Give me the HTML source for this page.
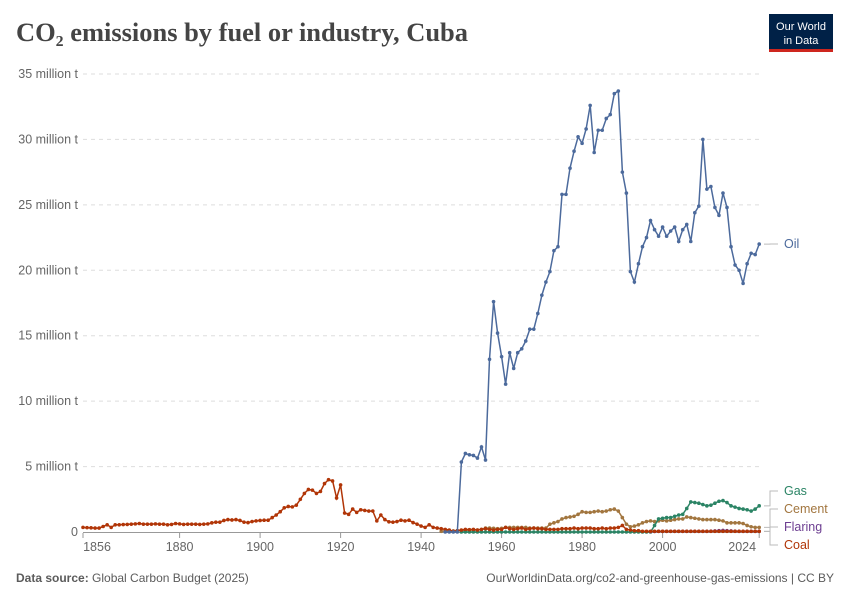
<!DOCTYPE html>
<html><head><meta charset="utf-8">
<style>
body{margin:0;background:#fff;font-family:"Liberation Sans",sans-serif;}
</style></head>
<body>
<svg width="850" height="600" viewBox="0 0 850 600" style="font-family:'Liberation Sans',sans-serif">
<text x="16" y="41" style="font-family:'Liberation Serif',serif;font-weight:bold;font-size:26px" fill="#444" textLength="452" lengthAdjust="spacingAndGlyphs">CO₂ emissions by fuel or industry, Cuba</text>
<g>
<rect x="769" y="14" width="64" height="38" fill="#002147"/>
<rect x="769" y="49" width="64" height="3" fill="#ce261e"/>
<text x="801" y="30" font-size="11" fill="#fff" text-anchor="middle">Our World</text>
<text x="801" y="44" font-size="11" fill="#fff" text-anchor="middle">in Data</text>
</g>
<g id="grid"></g>
<g id="series"></g>
<g id="labels"></g>
<text x="16" y="582" font-size="12" fill="#5b5b5b"><tspan font-weight="bold">Data source:</tspan> Global Carbon Budget (2025)</text>
<text x="834" y="582" font-size="12" fill="#5b5b5b" text-anchor="end">OurWorldinData.org/co2-and-greenhouse-gas-emissions | CC BY</text>
</svg>
<script>
const yTicks=[0,5,10,15,20,25,30,35];
const xTicks=[1856,1880,1900,1920,1940,1960,1980,2000,2024];
const oilStart=1946;
const oil=[0,0,0,0,5.35,6.0,5.9,5.85,5.65,6.5,5.5,13.2,17.6,15.2,13.4,11.3,13.7,12.5,13.7,14.0,14.6,15.5,15.5,16.7,18.1,19.1,19.9,21.5,21.8,25.8,25.8,27.8,29.1,30.2,29.7,30.8,32.6,29.0,30.7,30.7,31.6,31.9,33.5,33.7,27.5,25.9,19.9,19.1,20.5,21.8,22.5,23.8,23.1,22.6,23.3,22.6,23.0,23.3,22.2,23.1,23.5,22.2,24.4,24.9,30.0,26.2,26.4,24.8,24.2,25.9,24.8,21.8,20.4,20.0,19.0,20.5,21.3,21.2,22.0];
const coalStart=1856;
const coal=[0.35,0.33,0.32,0.3,0.3,0.42,0.55,0.35,0.55,0.55,
0.57,0.58,0.6,0.62,0.65,0.6,0.6,0.6,0.62,0.6,
0.6,0.55,0.58,0.65,0.62,0.58,0.6,0.6,0.6,0.58,
0.6,0.62,0.7,0.75,0.75,0.88,0.95,0.92,0.95,0.88,
0.75,0.72,0.8,0.85,0.88,0.9,0.9,1.1,1.3,1.55,
1.85,1.95,1.92,2.05,2.5,2.95,3.25,3.2,2.95,3.1,
3.7,4.0,3.9,2.6,3.6,1.45,1.35,1.75,1.5,1.7,
1.65,1.6,1.6,0.85,1.3,0.95,0.78,0.75,0.8,0.9,
0.85,0.9,0.72,0.6,0.45,0.35,0.55,0.35,0.3,0.25,
0.2,0.15,0.05,0.1,0.15,0.2,0.18,0.2,0.15,0.2,
0.25,0.2,0.15,0.2,0.2,0.35,0.25,0.2,0.25,0.3,
0.2,0.25,0.3,0.25,0.25,0.2,0.2,0.2,0.2,0.25,
0.25,0.25,0.3,0.25,0.3,0.3,0.3,0.25,0.25,0.3,
0.25,0.3,0.3,0.35,0.5,0.2,0.15,0.1,0.1,0.05,
0.05,0.05,0.05,0.05,0.05,0.05,0.05,0.05,0.05,0.05,
0.05,0.05,0.05,0.05,0.05,0.05,0.05,0.05,0.05,0.05,
0.05,0.05,0.05,0.05,0.05,0.05,0.05,0.05,0.05];
const cementStart=1945;
const cement=[0.05,0.08,0.08,0.08,0.1,0.12,0.12,0.15,0.15,0.15,0.2,0.3,0.3,0.28,0.25,0.28,0.35,0.35,0.35,0.35,0.35,0.35,0.3,0.3,0.3,0.3,0.3,0.6,0.7,0.8,1.0,1.1,1.15,1.2,1.35,1.55,1.5,1.5,1.55,1.6,1.55,1.6,1.7,1.75,1.6,1.1,0.6,0.4,0.45,0.55,0.7,0.8,0.85,0.8,0.85,0.9,0.85,0.9,0.95,1.0,1.0,1.15,1.1,1.05,1.0,0.95,0.95,0.95,0.95,0.9,0.85,0.7,0.7,0.7,0.7,0.65,0.5,0.4,0.35,0.35];
const gasStart=1950;
const gas=[0,0,0,0,0,0,0,0,0,0,0,0,0,0,0,0,0,0,0,0,0,0,0,0,0,0,0,0,0,0,0,0,0,0,0,0,0,0,0,0,0,0,0,0,0,0,0,0,0.5,1.0,1.05,1.1,1.1,1.2,1.3,1.35,1.8,2.3,2.25,2.2,2.1,2.0,2.05,2.2,2.35,2.4,2.25,2.0,1.9,1.8,1.75,1.7,1.6,1.75,2.0];
const flaringStart=1997;
const flaring=[0.03,0.04,0.05,0.05,0.05,0.05,0.05,0.05,0.05,0.05,0.05,0.05,0.05,0.05,0.05,0.06,0.08,0.1,0.12,0.1,0.08,0.06,0.05,0.05,0.05,0.05,0.05,0.05];

const NS="http://www.w3.org/2000/svg";
const X=y=>83+(y-1856)*4.025;
const Y=v=>532-v*13.086;
function mk(tag,attrs,parent){const e=document.createElementNS(NS,tag);for(const k in attrs)e.setAttribute(k,attrs[k]);parent.appendChild(e);return e;}
const grid=document.getElementById('grid');
yTicks.forEach(t=>{
  if(t>0){const l=mk('line',{x1:X(1856),x2:760,y1:Y(t),y2:Y(t),stroke:'#ddd','stroke-dasharray':'4,4'},grid);
  
  }
  const tx=mk('text',{x:78,y:Y(t)+4,'font-size':12.5,fill:'#666','text-anchor':'end'},grid);
  tx.textContent=t===0?'0':t+' million t';
  
  
});
const ax=mk('line',{x1:83,x2:760,y1:532.5,y2:532.5,stroke:'#999'},grid);


xTicks.forEach(t=>{
  mk('line',{x1:X(t),x2:X(t),y1:533,y2:538,stroke:'#999'},grid);
  const tx=mk('text',{x:t===2024?X(t)-17:(t===1856?X(t)+14:X(t)),y:551,'font-size':12.5,fill:'#666','text-anchor':'middle'},grid);
  tx.textContent=t;
  
  
});
const sg=document.getElementById('series');
function draw(name,start,vals,color){
  const g=mk('g',{},sg);
  
  
  const pts=vals.map((v,i)=>X(start+i).toFixed(1)+','+Y(v).toFixed(1)).join(' ');
  mk('polyline',{points:pts,fill:'none',stroke:color,'stroke-width':1.5},g);
  vals.forEach((v,i)=>mk('circle',{cx:X(start+i),cy:Y(v),r:1.8,fill:color},g));
}
draw('cement',cementStart,cement,'#a2763f');
draw('gas',gasStart,gas,'#2b8465');
draw('flaring',flaringStart,flaring,'#6d3e91');
draw('coal',coalStart,coal,'#b13507');
draw('oil',oilStart,oil,'#4c6a9c');
const lg=document.getElementById('labels');
const legend=[['Oil',248,'#4c6a9c',oil[oil.length-1]],['Gas',495,'#2b8465',gas[gas.length-1]],['Cement',513,'#a2763f',cement[cement.length-1]],['Flaring',531,'#6d3e91',flaring[flaring.length-1]],['Coal',549,'#b13507',coal[coal.length-1]]];
legend.forEach(([n,y,c,v])=>{
  const ly=y-4;
  mk('path',{d:`M764 ${Y(v)} H770 V${ly} H778`,fill:'none',stroke:'#bbb'},lg);
  const t=mk('text',{x:784,y:y,'font-size':12.5,fill:c},lg);
  t.textContent=n;
  
  
});
</script>
</body></html>
